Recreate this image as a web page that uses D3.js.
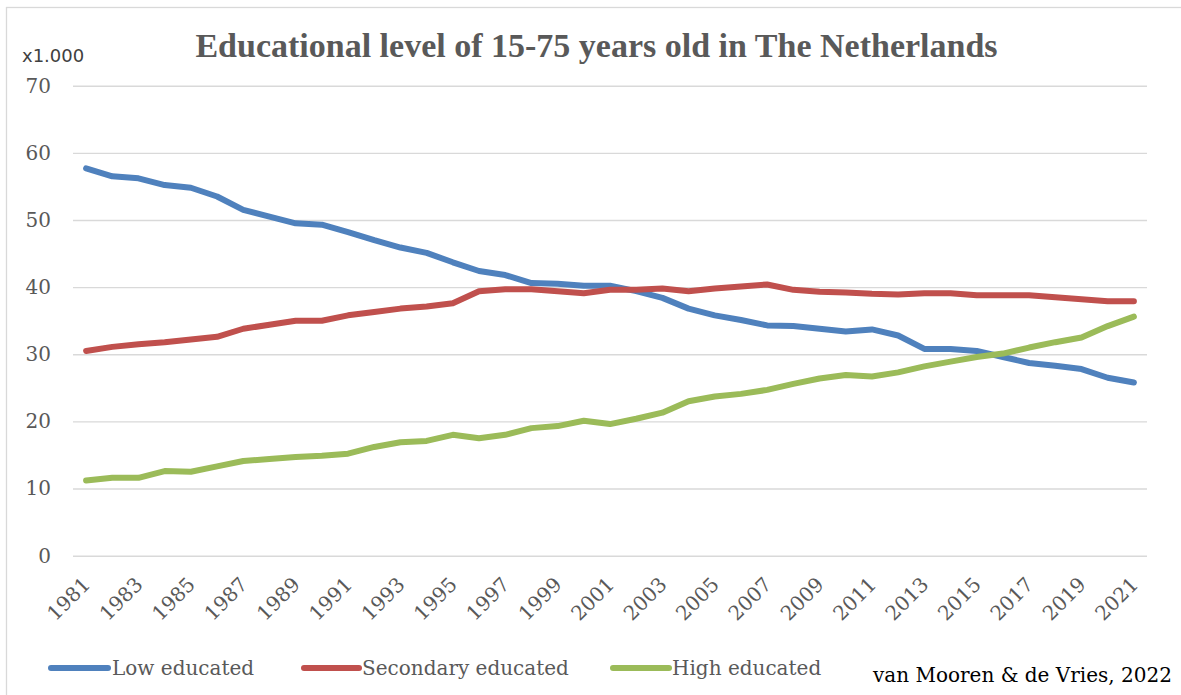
<!DOCTYPE html>
<html>
<head>
<meta charset="utf-8">
<script src="https://cdn.jsdelivr.net/npm/d3@7"></script>
<style>
  html, body { margin: 0; padding: 0; background: #ffffff; }
  svg { display: block; }
</style>
</head>
<body>
<svg id="chart" width="1181" height="695"></svg>
<script>
// Population aged 15-75 by educational level, in thousands
const years = [1981, 1982, 1983, 1984, 1985, 1986, 1987, 1988, 1989, 1990,
  1991, 1992, 1993, 1994, 1995, 1996, 1997, 1998, 1999, 2000,
  2001, 2002, 2003, 2004, 2005, 2006, 2007, 2008, 2009, 2010,
  2011, 2012, 2013, 2014, 2015, 2016, 2017, 2018, 2019, 2020, 2021];

const lowEducated = [57.7, 56.5, 56.2, 55.2, 54.8, 53.5, 51.5, 50.5, 49.5, 49.3,
  48.2, 47.0, 45.9, 45.1, 43.7, 42.4, 41.8, 40.6, 40.5, 40.2,
  40.2, 39.4, 38.4, 36.8, 35.8, 35.1, 34.3, 34.2, 33.8, 33.4,
  33.7, 32.8, 30.8, 30.8, 30.5, 29.6, 28.7, 28.3, 27.8, 26.5, 25.8];

const secondaryEducated = [30.5, 31.1, 31.5, 31.8, 32.2, 32.6, 33.8, 34.4, 35.0, 35.0,
  35.8, 36.3, 36.8, 37.1, 37.6, 39.4, 39.7, 39.7, 39.4, 39.1,
  39.6, 39.6, 39.8, 39.4, 39.8, 40.1, 40.4, 39.6, 39.3, 39.2,
  39.0, 38.9, 39.1, 39.1, 38.8, 38.8, 38.8, 38.5, 38.2, 37.9, 37.9];

const highEducated = [11.2, 11.6, 11.6, 12.6, 12.5, 13.3, 14.1, 14.4, 14.7, 14.9,
  15.2, 16.2, 16.9, 17.1, 18.0, 17.5, 18.0, 19.0, 19.3, 20.1,
  19.6, 20.4, 21.3, 23.0, 23.7, 24.1, 24.7, 25.6, 26.4, 26.9,
  26.7, 27.3, 28.2, 28.9, 29.6, 30.1, 31.0, 31.8, 32.5, 34.2, 35.6];

const seriesNames = ["Low educated", "Secondary educated", "High educated"];
const seriesColors = ["#4F81BD", "#C0504D", "#9BBB59"];
const yTicks = [0, 10, 20, 30, 40, 50, 60, 70];
const xTickLabels = [1981, 1983, 1985, 1987, 1989, 1991, 1993, 1995, 1997, 1999, 2001,
  2003, 2005, 2007, 2009, 2011, 2013, 2015, 2017, 2019, 2021];

const titleText = "Educational level of 15-75 years old in The Netherlands";
const unitText = "x1.000";
const creditText = "van Mooren & de Vries, 2022";

const serif = "'DejaVu Serif', serif";
const textGray = "#595959";

const svg = d3.select("#chart");

// outer chart frame (continues past the right and bottom edges)
svg.append("rect")
  .attr("x", 6.5).attr("y", 7.5)
  .attr("width", 1200).attr("height", 720)
  .attr("fill", "none")
  .attr("stroke", "#d9d9d9")
  .attr("stroke-width", 1.3);

const plot = { left: 73, right: 1147, top: 85.7, bottom: 555.7 };

const x = d3.scalePoint()
  .domain(years)
  .range([plot.left, plot.right])
  .padding(0.5);

const y = d3.scaleLinear()
  .domain([0, 70])
  .range([plot.bottom, plot.top]);

// horizontal gridlines and value labels
const yAxis = d3.axisLeft(y)
  .tickValues(yTicks)
  .tickSize(-(plot.right - plot.left))
  .tickPadding(22)
  .tickFormat(d3.format("d"));

const yAxisG = svg.append("g")
  .attr("transform", `translate(${plot.left},0)`)
  .call(yAxis);
yAxisG.select(".domain").remove();
yAxisG.selectAll(".tick line")
  .attr("stroke", "#d9d9d9")
  .attr("stroke-width", 1.4);
yAxisG.selectAll(".tick text")
  .attr("fill", textGray)
  .style("font-family", serif)
  .style("font-size", "20px");

// year labels, rotated
const xAxis = d3.axisBottom(x)
  .tickValues(xTickLabels)
  .tickSize(0)
  .tickFormat(d3.format("d"));

const xAxisG = svg.append("g")
  .attr("transform", `translate(0,${plot.bottom})`)
  .call(xAxis);
xAxisG.select(".domain").remove();
xAxisG.selectAll(".tick text")
  .attr("fill", textGray)
  .style("font-family", serif)
  .style("font-size", "20px")
  .attr("text-anchor", "end")
  .attr("dy", null)
  .attr("y", 0)
  .attr("transform", "translate(5,30) rotate(-45)");

// series lines
const allSeries = [lowEducated, secondaryEducated, highEducated];
const line = d3.line()
  .x((d, i) => x(years[i]))
  .y(d => y(d));

svg.append("g")
  .selectAll("path")
  .data(allSeries)
  .join("path")
  .attr("d", d => line(d))
  .attr("fill", "none")
  .attr("stroke", (d, i) => seriesColors[i])
  .attr("stroke-width", 6)
  .attr("stroke-linejoin", "round")
  .attr("stroke-linecap", "round");

// title
svg.append("text")
  .attr("x", 596.5)
  .attr("y", 57)
  .attr("text-anchor", "middle")
  .attr("fill", textGray)
  .style("font-family", "'Liberation Serif', serif")
  .style("font-weight", "bold")
  .style("font-size", "34px")
  .text(titleText);

// unit label
svg.append("text")
  .attr("x", 22)
  .attr("y", 61.5)
  .attr("fill", "#404040")
  .style("font-family", "'DejaVu Sans', sans-serif")
  .style("font-size", "18px")
  .text(unitText);

// legend
const legendItems = [
  { x1: 51, x2: 108, tx: 112 },
  { x1: 304, x2: 359, tx: 362 },
  { x1: 613, x2: 669, tx: 672 }
];
const legend = svg.append("g");
legendItems.forEach((item, i) => {
  legend.append("line")
    .attr("x1", item.x1).attr("x2", item.x2)
    .attr("y1", 668).attr("y2", 668)
    .attr("stroke", seriesColors[i])
    .attr("stroke-width", 6)
    .attr("stroke-linecap", "round");
  legend.append("text")
    .attr("x", item.tx)
    .attr("y", 675)
    .attr("fill", textGray)
    .style("font-family", serif)
    .style("font-size", "20px")
    .text(seriesNames[i]);
});

// source credit
svg.append("text")
  .attr("x", 873)
  .attr("y", 682)
  .attr("fill", "#000000")
  .style("font-family", serif)
  .style("font-size", "20px")
  .text(creditText);
</script>
</body>
</html>
